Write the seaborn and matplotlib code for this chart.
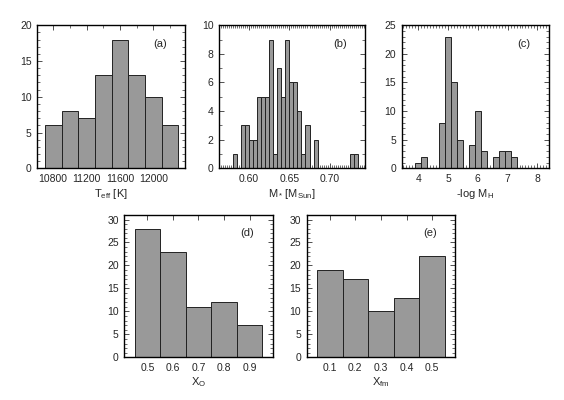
import matplotlib
matplotlib.use("Agg")
import matplotlib.pyplot as plt
from matplotlib.ticker import MultipleLocator
import seaborn as sns
import numpy as np
import pandas as pd

# histogram data: bin centres and counts
teff_centers = [10800, 11000, 11200, 11400, 11600, 11800, 12000, 12200]
teff_counts = [6, 8, 7, 13, 18, 13, 10, 6]

mass_centers = [0.5825, 0.5875, 0.5925, 0.5975, 0.6025, 0.6075, 0.6125, 0.6175,
                0.6225, 0.6275, 0.6325, 0.6375, 0.6425, 0.6475, 0.6525, 0.6575,
                0.6625, 0.6675, 0.6725, 0.6775, 0.6825, 0.7275, 0.7325]
mass_counts = [1, 0, 3, 3, 2, 2, 5, 5, 5, 9, 1, 7, 5, 9, 6, 6, 4, 1, 3, 0, 2, 1, 1]

mh_centers = [4.0, 4.2, 4.8, 5.0, 5.2, 5.4, 5.8, 6.0, 6.2, 6.6, 6.8, 7.0, 7.2]
mh_counts = [1, 2, 8, 23, 15, 5, 4, 10, 3, 2, 3, 3, 2]

xo_centers = [0.5, 0.6, 0.7, 0.8, 0.9]
xo_counts = [28, 23, 11, 12, 7]

xfm_centers = [0.1, 0.2, 0.3, 0.4, 0.5]
xfm_counts = [19, 17, 10, 13, 22]

sns.set_style("ticks")
plt.rcParams.update({
    'font.family': ['Liberation Sans', 'DejaVu Sans'],
    'mathtext.fontset': 'custom',
    'mathtext.rm': 'Liberation Sans',
    'mathtext.it': 'Liberation Sans:italic',
    'font.size': 7.5,
    'xtick.labelsize': 7.5,
    'ytick.labelsize': 7.5,
    'axes.labelsize': 8,
    'axes.linewidth': 1.0,
    'axes.edgecolor': 'black',
})

BAR = '#999999'
EDGE = '#222222'


def hist_panel(ax, centers, counts, width, xlim, ylim, xmajor, xminor,
               ymajor, xlabel, tag):
    df = pd.DataFrame({'x': centers, 'n': counts})
    edges = np.round(np.arange(df['x'].min() - width / 2,
                               df['x'].max() + width, width), 6)
    sns.histplot(data=df, x='x', weights='n', bins=list(edges), ax=ax,
                 color=BAR, edgecolor=EDGE, linewidth=0.7, alpha=1.0)
    ax.set_xlim(*xlim)
    ax.set_ylim(*ylim)
    ax.xaxis.set_major_locator(MultipleLocator(xmajor))
    if xminor:
        ax.xaxis.set_minor_locator(MultipleLocator(xminor))
    ax.yaxis.set_major_locator(MultipleLocator(ymajor))
    ax.yaxis.set_minor_locator(MultipleLocator(1))
    ax.tick_params(which='both', direction='in', top=True, right=True,
                   color='#333333')
    ax.tick_params(which='major', length=3.5, width=0.6, pad=4)
    ax.tick_params(which='minor', length=2, width=0.5)
    ax.set_xlabel(xlabel, labelpad=2)
    ax.set_ylabel('')
    ax.text(0.83, 0.87, tag, transform=ax.transAxes, ha='center',
            va='center', fontsize=8)


fig = plt.figure(figsize=(5.64, 4.0), dpi=100)
ax_a = fig.add_axes([0.0662, 0.579, 0.2624, 0.358])
ax_b = fig.add_axes([0.3883, 0.579, 0.2589, 0.358])
ax_c = fig.add_axes([0.7122, 0.579, 0.2617, 0.358])
ax_d = fig.add_axes([0.2204, 0.1067, 0.2630, 0.356])
ax_e = fig.add_axes([0.5437, 0.1067, 0.2635, 0.356])

hist_panel(ax_a, teff_centers, teff_counts, 200, (10610, 12385), (0, 20),
           400, 200, 5, r'T$_{\rm eff}$ [K]', '(a)')
hist_panel(ax_b, mass_centers, mass_counts, 0.005, (0.5625, 0.744), (0, 10),
           0.05, 0.0025, 2, r'M$_*\,$[M$_{\rm Sun}$]', '(b)')
hist_panel(ax_c, mh_centers, mh_counts, 0.2, (3.44, 8.4), (0, 25),
           1, 0.1, 5, r'-log M$_{\rm H}$', '(c)')
hist_panel(ax_d, xo_centers, xo_counts, 0.1, (0.41, 0.99), (0, 31),
           0.1, None, 5, r'X$_{\rm O}$', '(d)')
hist_panel(ax_e, xfm_centers, xfm_counts, 0.1, (0.01, 0.59), (0, 31),
           0.1, None, 5, r'X$_{\rm fm}$', '(e)')

fig.savefig("out.png", dpi=100)
